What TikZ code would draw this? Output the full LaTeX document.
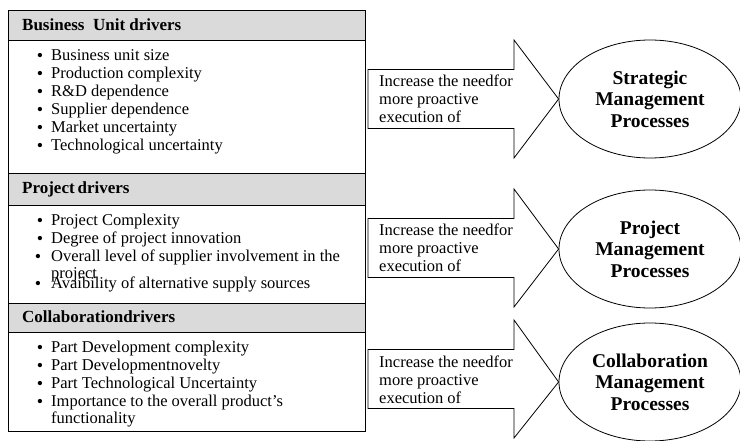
\documentclass[tikz,border=0pt]{standalone}
\usepackage{fontspec}
\setmainfont{Liberation Serif}
\usetikzlibrary{shapes.geometric}
\definecolor{hdr}{HTML}{DADADA}
\tikzset{
 hdrbox/.style={draw=black, fill=hdr, line width=0.8pt},
 frame/.style={draw=black, line width=0.8pt},
 hdrtext/.style={anchor=west, font=\fontsize{17}{19}\selectfont\bfseries, inner sep=0pt, text height=12pt, text depth=3.5pt},
 item/.style={anchor=west, font=\fontsize{16.5}{18}\selectfont, inner sep=0pt, text height=11pt, text depth=3.5pt},
 bul/.style={font=\fontsize{18}{18}\selectfont, inner sep=0pt},
 blockarrow/.style={draw=black, fill=white, line width=0.8pt, line join=miter},
 arrowtext/.style={anchor=west, align=left, font=\fontsize{16.5}{18}\selectfont, inner sep=0pt},
 proc/.style={ellipse, draw=black, line width=0.8pt, minimum width=182pt, minimum height=118pt, inner sep=0pt, align=center, font=\fontsize{19.5}{21.5}\selectfont\bfseries},
}
\begin{document}
\begin{tikzpicture}[x=1pt,y=-1pt]
\useasboundingbox (0,0) rectangle (740,441);
\clip (0,0) rectangle (740,441);
% left panel
\path[hdrbox] (8,10) rectangle (365,40);
\path[hdrbox] (8,173) rectangle (365,205);
\path[hdrbox] (8,303) rectangle (365,332);
\draw[frame] (8,10) rectangle (365,431);
\node[hdrtext] (h1) at (22,26) {Business\ \ Unit drivers};
\node[hdrtext] (h2) at (22,189) {Project\,drivers};
\node[hdrtext] (h3) at (22,318) {Collaborationdrivers};
% section 1
\foreach \t [count=\i] in {Business unit size,Production complexity,R\&D dependence,Supplier dependence,Market uncertainty,Technological uncertainty}{
  \node[bul] (ba\i) at (40,39+18*\i) {\textbullet};
  \node[item] (ia\i) at (51,39+18*\i) {\t};
}
% section 2
\node[bul] (bb1) at (40,222) {\textbullet};
\node[item] (ib1) at (51,222) {Project Complexity};
\node[bul] (bb2) at (40,240) {\textbullet};
\node[item] (ib2) at (51,240) {Degree of project innovation};
\node[bul] (bb3) at (38,258) {\textbullet};
\node[item] (ib3) at (51,258) {Overall level of supplier involvement in the};
\node[item] (ib4) at (51,275) {project};
\node[bul] (bb5) at (38,285) {\textbullet};
\node[item] (ib5) at (51,285) {Avaibility of alternative supply sources};
% section 3
\node[bul] (bc1) at (40,349) {\textbullet};
\node[item] (ic1) at (51,349) {Part Development complexity};
\node[bul] (bc2) at (40,367) {\textbullet};
\node[item] (ic2) at (51,367) {Part Developmentnovelty};
\node[bul] (bc3) at (40,385) {\textbullet};
\node[item] (ic3) at (51,385) {Part Technological Uncertainty};
\node[bul] (bc4) at (40,403) {\textbullet};
\node[item] (ic4) at (51,403) {Importance to the overall product’s};
\node[item] (ic5) at (51,420) {functionality};
% ellipses
\node[proc] (e1) at (650,99) {Strategic\\Management\\Processes};
\node[proc] (e2) at (650,249) {Project\\Management\\Processes};
\node[proc] (e3) at (650,382) {Collaboration\\Management\\Processes};
% block arrows
\foreach \cy/\e in {99/e1,248/e2,379/e3}{
  \draw[blockarrow] (368,\cy-29.5) -- (514,\cy-29.5) -- (514,\cy-59) -- (\e.west) -- (514,\cy+59) -- (514,\cy+29.5) -- (368,\cy+29.5) -- cycle;
}
\node[arrowtext] (t1) at (379,99) {Increase the needfor\\more proactive\\execution of};
\node[arrowtext] (t2) at (379,248) {Increase the needfor\\more proactive\\execution of};
\node[arrowtext] (t3) at (379,380) {Increase the needfor\\more proactive\\execution of};
\end{tikzpicture}
\end{document}
